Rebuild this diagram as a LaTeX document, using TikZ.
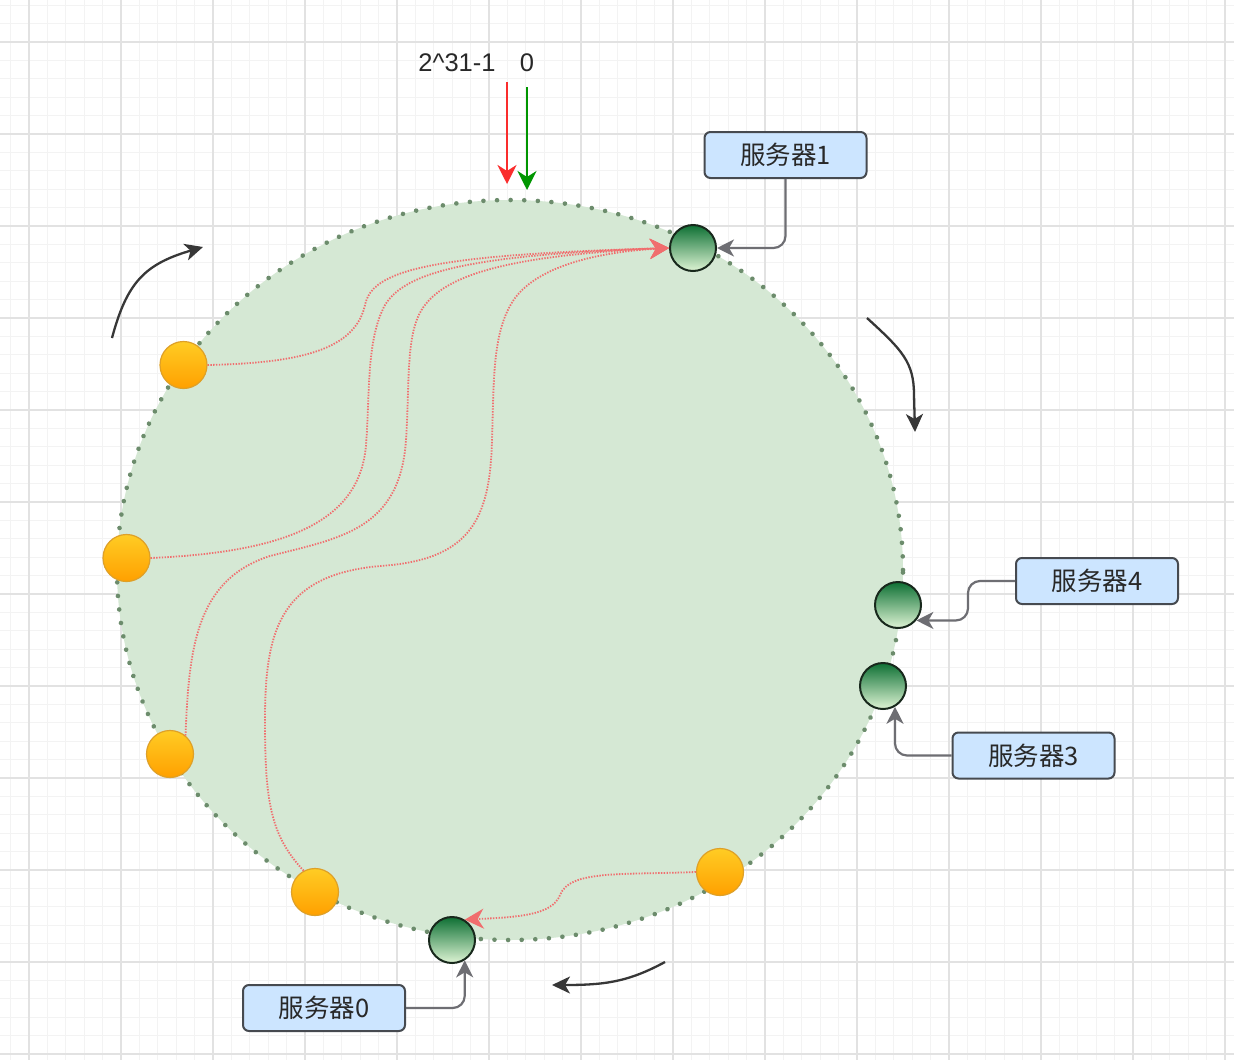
\documentclass[tikz,border=0pt]{standalone}
\usepackage{fontspec}
\setmainfont{Liberation Sans}
\newfontfamily\cjk{Noto Sans CJK SC}
\usetikzlibrary{arrows.meta,shapes.geometric}

\definecolor{gridminor}{RGB}{243,243,243}
\definecolor{gridmajor}{RGB}{226,226,226}
\definecolor{ringfill}{RGB}{213,232,212}
\definecolor{ringdot}{RGB}{108,140,108}
\definecolor{hashred}{RGB}{240,110,110}
\definecolor{srvtop}{RGB}{14,112,52}
\definecolor{srvbot}{RGB}{222,244,212}
\definecolor{srvline}{RGB}{24,40,28}
\definecolor{keytop}{RGB}{255,204,36}
\definecolor{keybot}{RGB}{255,160,0}
\definecolor{keyline}{RGB}{222,160,40}
\definecolor{tagfill}{RGB}{204,229,255}
\definecolor{tagline}{RGB}{70,74,80}
\definecolor{connline}{RGB}{110,110,115}
\definecolor{textdark}{RGB}{40,40,40}
\definecolor{turncol}{RGB}{55,55,55}
\definecolor{markred}{RGB}{250,45,45}
\definecolor{markgreen}{RGB}{0,150,0}

\tikzset{
  gridminor line/.style={draw=gridminor, line width=1pt},
  gridmajor line/.style={draw=gridmajor, line width=1.3pt},
  server/.style={circle, minimum size=46pt, inner sep=0pt, draw=srvline,
    line width=2pt, top color=srvtop, bottom color=srvbot},
  keynode/.style={circle, minimum size=47pt, inner sep=0pt, draw=keyline,
    line width=1.2pt, top color=keytop, bottom color=keybot},
  tag/.style={rectangle, rounded corners=6pt, minimum width=162pt,
    minimum height=46pt, inner sep=0pt, fill=tagfill, draw=tagline,
    line width=2pt, text=textdark, font=\cjk\fontsize{25.5}{30}\selectfont},
  conn/.style={draw=connline, line width=2.2pt, rounded corners=12pt,
    -{Stealth[length=17pt,width=17pt,inset=5pt]}},
  hash/.style={draw=hashred, line width=1.8pt, dash pattern=on 1.4pt off 1.4pt,
    -{Stealth[length=19pt,width=20pt,inset=6pt,sep=0pt]}},
  turn/.style={draw=turncol, line width=2.3pt,
    -{Stealth[length=18pt,width=17pt,inset=5pt]}},
  endmark/.style={line width=2.3pt, -{Stealth[length=19pt,width=19pt,inset=6pt]}},
  toplabel/.style={text=textdark, font=\fontsize{25.5}{30}\selectfont, inner sep=0pt}
}

\begin{document}
\begin{tikzpicture}[x=1pt, y=-1pt]
\useasboundingbox (0,0) rectangle (1234,1060);
\fill[white] (0,0) rectangle (1234,1060);

% background grid
\foreach \k in {-1,...,66} \draw[gridminor line] ({29+18.4*\k},0) -- ({29+18.4*\k},1060);
\foreach \k in {-2,...,55} \draw[gridminor line] (0,{42+18.4*\k}) -- (1234,{42+18.4*\k});
\foreach \k in {0,...,13} \draw[gridmajor line] ({29+92*\k},0) -- ({29+92*\k},1060);
\foreach \k in {0,...,11} \draw[gridmajor line] (0,{42+92*\k}) -- (1234,{42+92*\k});

% hash ring: filled ellipse, then its dotted rim
\node[ellipse, minimum width=786pt, minimum height=740pt, inner sep=0pt,
      outer sep=0pt, fill=ringfill] (ring) at (510,570) {};
\draw[ringdot, line width=4.6pt, line cap=round, dash pattern=on 0.01pt off 13.6pt]
  (ring.center) ellipse [x radius=393pt, y radius=370pt];

% start / end of the hash space
\node[toplabel] (lblmax) at (457,63) {2\textasciicircum 31-1};
\node[toplabel] (lblzero) at (527,63) {0};
\coordinate (redstart) at (507,82);
\coordinate (redend) at (507,184);
\coordinate (greenstart) at (527,87);
\coordinate (greenend) at (527,190);
\draw[endmark, draw=markred] (redstart) -- (redend);
\draw[endmark, draw=markgreen] (greenstart) -- (greenend);

% servers on the ring
\node[server] (s1) at (693,248) {};
\node[server] (s4) at (898,605) {};
\node[server] (s3) at (883,686) {};
\node[server] (s0) at (452,940) {};

% keys on the ring
\node[keynode] (o1) at (183.5,365) {};
\node[keynode] (o2) at (126.5,558) {};
\node[keynode] (o3) at (170,754) {};
\node[keynode] (o4) at (315,892) {};
\node[keynode] (o5) at (720,872) {};

% server labels
\node[tag] (b1) at (785.5,155) {服务器1};
\node[tag] (b4) at (1097,581) {服务器4};
\node[tag] (b3) at (1033.5,755.5) {服务器3};
\node[tag] (b0) at (324,1008) {服务器0};

\draw[conn] (b1.south) |- (s1.east);
\draw[conn] (b4.west) -- ++(-47,0) |- (s4.-40);
\draw[conn] (b3.west) -| (s3.-60);
\draw[conn] (b0.east) -| (s0.-58);

% keys mapped clockwise to their server
\draw[hash] (o1.east) .. controls (300,363) and (355,350) .. (365,305)
            .. controls (372,270) and (430,255) .. (s1.west);
\draw[hash] (o2.east) .. controls (290,552) and (360,520) .. (366,445)
            .. controls (370,395) and (366,340) .. (385,305)
            .. controls (405,272) and (470,255) .. (s1.west);
\draw[hash] (o3.50) .. controls (189,650) and (195,580) .. (270,556)
            .. controls (340,538) and (400,530) .. (406,440)
            .. controls (410,380) and (405,330) .. (425,305)
            .. controls (450,272) and (520,255) .. (s1.west);
\draw[hash] (o4.118) .. controls (270,835) and (265,800) .. (265,720)
            .. controls (265,630) and (280,575) .. (380,566)
            .. controls (470,560) and (490,520) .. (492,440)
            .. controls (494,380) and (492,330) .. (515,298)
            .. controls (540,265) and (600,252) .. (s1.west);
\draw[hash] (o5.west) .. controls (620,875) and (570,870) .. (560,895)
            .. controls (552,915) and (520,917) .. (s0.58);

% direction of traversal
\coordinate (t1a) at (112,338);
\coordinate (t1b) at (203,247);
\coordinate (t2a) at (867,318);
\coordinate (t2b) at (915,432);
\coordinate (t3a) at (665,962);
\coordinate (t3b) at (552,985);
\draw[turn] (t1a) .. controls (127,282) and (145,264) .. (t1b);
\draw[turn] (t2a) .. controls (902,350) and (914,362) .. (914,395) -- (t2b);
\draw[turn] (t3a) .. controls (628,982) and (605,985) .. (t3b);
\end{tikzpicture}
\end{document}
